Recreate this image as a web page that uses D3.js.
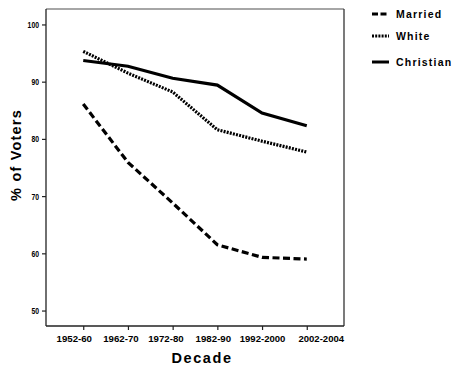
<!DOCTYPE html>
<html><head><meta charset="utf-8">
<script src="https://cdn.jsdelivr.net/npm/d3@7"></script>
<style>body{margin:0;background:#fff}svg{display:block}text{font-family:"Liberation Sans",Arial,sans-serif;font-weight:bold;fill:#000}</style>
</head><body><svg id="c" width="459" height="370"></svg>
<script>
const decades = ["1952-60","1962-70","1972-80","1982-90","1992-2000","2002-2004"];
const married = [86.1, 75.9, 68.8, 61.5, 59.3, 59.0];
const white = [95.3, 91.5, 88.2, 81.6, 79.6, 77.7];
const christian = [93.7, 92.7, 90.6, 89.4, 84.5, 82.3];
const yTicks = [50, 60, 70, 80, 90, 100];
const seriesNames = ["Married", "White", "Christian"];

const svg = d3.select("#c");
const L = 46, R = 344, T = 9, B = 326;
const x = d3.scalePoint().domain(decades).range([L, R]).padding(0.833);
const y = d3.scaleLinear().domain([47.3, 102.7]).range([B, T]);

// frame
svg.append("line").attr("x1", L).attr("x2", R).attr("y1", T).attr("y2", T).attr("stroke", "#888").attr("stroke-width", 1.5);
svg.append("line").attr("x1", R).attr("x2", R).attr("y1", T).attr("y2", B).attr("stroke", "#333").attr("stroke-width", 1.3);

const yAxis = svg.append("g").attr("transform", `translate(${L},0)`)
  .call(d3.axisLeft(y).tickValues(yTicks).tickSize(4).tickPadding(3));
const xAxis = svg.append("g").attr("transform", `translate(0,${B})`)
  .call(d3.axisBottom(x).tickSize(4).tickPadding(6));
[yAxis, xAxis].forEach(g => {
  g.select(".domain").attr("stroke", "#222").attr("stroke-width", 1.3);
  g.selectAll(".tick line").attr("stroke", "#222").attr("stroke-width", 1.2);
  g.selectAll("text").style("font-size", "9px")
   .style("font-family", '"Liberation Sans",Arial,sans-serif').style("font-weight", "bold").attr("fill", "#000");
});
// label nudges as in the original's layout
const nudge = [-9.5, -7.5, -7.2, -4.5, 0, 14];
xAxis.selectAll(".tick text").attr("textLength", d => d.length * 5.07).attr("lengthAdjust", "spacingAndGlyphs")
  .attr("dx", (d, i) => nudge[i]);
yAxis.selectAll(".tick text").attr("textLength", d => String(d).length * 3.8).attr("lengthAdjust", "spacingAndGlyphs");
yAxis.select(".domain").attr("d", `M-0,${T}V${B}`);
xAxis.select(".domain").attr("d", `M${L},0H${R}`);

const dashes = ["7,3.5", "2,1.2", null];
const datasets = [married, white, christian];
const line = d3.line().x((d, i) => x(decades[i])).y(d => y(d));
datasets.forEach((ds, k) => {
  svg.append("path").datum(ds).attr("d", line).attr("fill", "none")
    .attr("stroke", "#000").attr("stroke-width", 3.2)
    .attr("stroke-dasharray", dashes[k]);
});

// legend
const ly = [14, 36, 62];
seriesNames.forEach((n, k) => {
  svg.append("line").attr("x1", 372).attr("x2", 389).attr("y1", ly[k]).attr("y2", ly[k])
    .attr("stroke", "#000").attr("stroke-width", 3).attr("stroke-dasharray", dashes[k] ? (k === 0 ? "6,2.5" : "2,1.2") : null);
  svg.append("text").attr("x", 396).attr("y", ly[k] + 4).style("font-size", "10.5px")
    .style("letter-spacing", "1.2px").text(n);
});

svg.append("text").attr("x", 202).attr("y", 363).attr("text-anchor", "middle")
  .style("font-size", "14.5px").style("letter-spacing", "1.6px").text("Decade");
svg.append("text").attr("transform", "translate(21,155) rotate(-90)").attr("text-anchor", "middle")
  .style("font-size", "14.5px").style("letter-spacing", "1.2px").text("% of Voters");
</script></body></html>
